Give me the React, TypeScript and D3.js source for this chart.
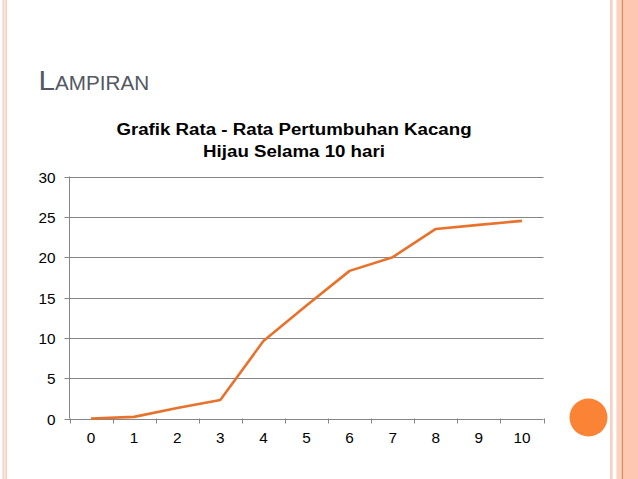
import React from "react";
import * as d3 from "d3";

const days = ["0", "1", "2", "3", "4", "5", "6", "7", "8", "9", "10"];
const growth = [0, 0.2, 1.3, 2.3, 9.6, 14.0, 18.3, 20.0, 23.5, 24.0, 24.5];
const yTicks = [0, 5, 10, 15, 20, 25, 30];
const titleLines = ["Grafik Rata - Rata Pertumbuhan Kacang", "Hijau Selama 10 hari"];

const W = 638;
const H = 479;
const plot = { left: 69.5, right: 543.5, top: 176.5, bottom: 418.5 };
const FONT = "'Liberation Sans', Arial, Helvetica, sans-serif";

export default function App() {
  const x = d3.scaleBand<string>().domain(days).range([plot.left, plot.right]).paddingInner(0).paddingOuter(0);
  const y = d3.scaleLinear().domain([0, 30]).range([plot.bottom, plot.top]);
  const line = d3
    .line<number>()
    .x((_, i) => (x(days[i]) as number) + x.bandwidth() / 2)
    .y((d) => y(d));
  const boundaries = days.map((d) => x(d) as number).concat([plot.right]);
  const sx = 1.08;

  return (
    <svg
      width={W}
      height={H}
      style={{ position: "absolute", left: 0, top: 0, background: "#fff" }}
      xmlns="http://www.w3.org/2000/svg"
    >
      {/* slide decoration */}
      <rect x={0} y={0} width={W} height={H} fill="#fff" />
      <rect x={2.5} y={0} width={4.5} height={H} fill="#f6d3c6" />
      <rect x={4} y={0} width={1.5} height={H} fill="#fbe6de" />
      <rect x={610} y={0} width={2.7} height={H} fill="#f8cfc0" />
      <rect x={616.7} y={0} width={21.3} height={H} fill="#fdc7b1" />
      <rect x={616.7} y={0} width={5} height={H} fill="#fbd2c2" />
      <rect x={621.8} y={0} width={1.2} height={H} fill="#e48a5e" />
      <circle cx={588.5} cy={417.5} r={19} fill="#fa8336" />

      {/* slide title */}
      <text transform={`translate(38.5,90) scale(1.06,1)`} fill="#535862" fontFamily={FONT}>
        <tspan fontSize={28}>L</tspan>
        <tspan fontSize={19.5}>AMPIRAN</tspan>
      </text>

      {/* chart title */}
      {titleLines.map((t, i) => (
        <text
          key={i}
          transform={`translate(294,${135 + i * 22}) scale(1.1,1)`}
          textAnchor="middle"
          fontFamily={FONT}
          fontWeight="bold"
          fontSize={17}
          fill="#000"
        >
          {t}
        </text>
      ))}

      {/* gridlines */}
      {yTicks.map((t) => (
        <g key={t}>
          <line x1={plot.left - 5} x2={plot.right} y1={Math.round(y(t)) + 0.5} y2={Math.round(y(t)) + 0.5} stroke="#868686" strokeWidth={1} />
          <text
            transform={`translate(55.5,${Math.round(y(t)) + 0.5}) scale(${sx},1)`}
            dy="0.36em"
            textAnchor="end"
            fontFamily={FONT}
            fontSize={14.2}
            fill="#000"
          >
            {t}
          </text>
        </g>
      ))}

      {/* y axis */}
      <line x1={plot.left} x2={plot.left} y1={plot.top} y2={plot.bottom} stroke="#868686" strokeWidth={1} />

      {/* x axis ticks */}
      {boundaries.map((b, i) => (
        <line key={i} x1={Math.round(b) + 0.5} x2={Math.round(b) + 0.5} y1={plot.bottom} y2={plot.bottom + 5} stroke="#868686" strokeWidth={1} />
      ))}
      {days.map((d) => (
        <text
          key={d}
          transform={`translate(${(x(d) as number) + x.bandwidth() / 2},442.7) scale(${sx},1)`}
          textAnchor="middle"
          fontFamily={FONT}
          fontSize={14.2}
          fill="#000"
        >
          {d}
        </text>
      ))}

      {/* data line */}
      <path d={line(growth) || ""} fill="none" stroke="#e8722c" strokeWidth={2.6} strokeLinejoin="round" />
    </svg>
  );
}
